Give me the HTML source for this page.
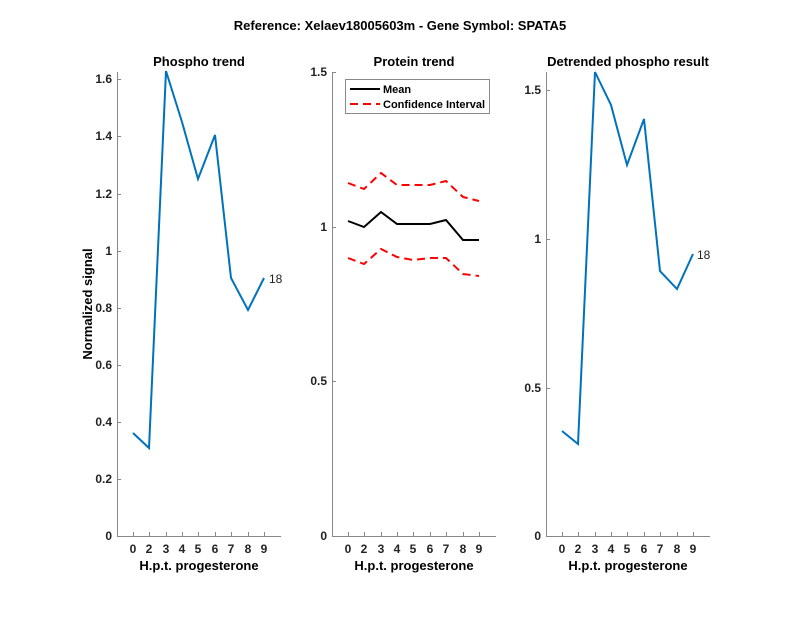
<!DOCTYPE html><html><head><style>body{margin:0;background:#fff}</style></head><body>
<svg width="800" height="618" xmlns="http://www.w3.org/2000/svg" font-family="Liberation Sans, sans-serif" font-weight="bold">
<rect width="800" height="618" fill="#fff"/>
<text x="400" y="30" text-anchor="middle" font-size="13">Reference:  Xelaev18005603m - Gene Symbol:  SPATA5</text>
<g font-size="13" text-anchor="middle">
<text x="199" y="66">Phospho trend</text>
<text x="414" y="66">Protein trend</text>
<text x="628" y="66">Detrended phospho result</text>
<text x="199" y="570">H.p.t. progesterone</text>
<text x="414" y="570">H.p.t. progesterone</text>
<text x="628" y="570">H.p.t. progesterone</text>
<text x="0" y="0" transform="translate(92,304) rotate(-90)">Normalized signal</text>
</g>
<g stroke="#888" stroke-width="1" fill="none">
<path d="M117.5,72V536.5H281"/>
<path d="M332.5,72V536.5H496"/>
<path d="M546.5,72V536.5H710"/>
</g>
<g stroke="#888" stroke-width="1" id="t">
<path d="M133.5,536v-4M149.5,536v-4M166.5,536v-4M182.5,536v-4M198.5,536v-4M215.5,536v-4M231.5,536v-4M248.5,536v-4M264.5,536v-4"/>
<path d="M117,479.5h4M117,422.5h4M117,365.5h4M117,308.5h4M117,251.5h4M117,194.5h4M117,136.5h4M117,79.5h4"/>
<path d="M348.5,536v-4M364.5,536v-4M381.5,536v-4M397.5,536v-4M413.5,536v-4M430.5,536v-4M446.5,536v-4M463.5,536v-4M479.5,536v-4"/>
<path d="M332,381.5h4M332,227.5h4M332,72.5h4"/>
<path d="M562.5,536v-4M578.5,536v-4M595.5,536v-4M611.5,536v-4M627.5,536v-4M644.5,536v-4M660.5,536v-4M677.5,536v-4M693.5,536v-4"/>
<path d="M546,388.5h4M546,239.5h4M546,90.5h4"/>
</g>
<g font-size="12" fill="#222" text-anchor="middle">
<text x="133" y="553">0</text><text x="149" y="553">2</text><text x="166" y="553">3</text><text x="182" y="553">4</text><text x="198" y="553">5</text><text x="215" y="553">6</text><text x="231" y="553">7</text><text x="248" y="553">8</text><text x="264" y="553">9</text>
<text x="348" y="553">0</text><text x="364" y="553">2</text><text x="381" y="553">3</text><text x="397" y="553">4</text><text x="413" y="553">5</text><text x="430" y="553">6</text><text x="446" y="553">7</text><text x="463" y="553">8</text><text x="479" y="553">9</text>
<text x="562" y="553">0</text><text x="578" y="553">2</text><text x="595" y="553">3</text><text x="611" y="553">4</text><text x="627" y="553">5</text><text x="644" y="553">6</text><text x="660" y="553">7</text><text x="677" y="553">8</text><text x="693" y="553">9</text>
</g>
<g font-size="12" fill="#222" text-anchor="end">
<text x="112" y="540">0</text><text x="112" y="483">0.2</text><text x="112" y="426">0.4</text><text x="112" y="369">0.6</text><text x="112" y="312">0.8</text><text x="112" y="255">1</text><text x="112" y="198">1.2</text><text x="112" y="140">1.4</text><text x="112" y="83">1.6</text>
<text x="327" y="540">0</text><text x="327" y="385">0.5</text><text x="327" y="231">1</text><text x="327" y="76">1.5</text>
<text x="541" y="540">0</text><text x="541" y="392">0.5</text><text x="541" y="243">1</text><text x="541" y="94">1.5</text>
</g>
<g fill="none" stroke="#0072BD" stroke-width="2">
<polyline points="133,433 149,448 166,71 182,122 198,179 215,135 231,278 248,310 264,278"/>
<polyline points="562,431 578,444 595,72 611,105 627,165 644,119 660,271 677,289 693,254"/>
</g>
<g font-size="12" font-weight="normal" fill="#222">
<text x="269" y="283">18</text><text x="697" y="259">18</text>
</g>
<polyline fill="none" stroke="#000" stroke-width="2" points="348,221 364,227 381,212 397,224 413,224 430,224 446,220 463,240 479,240"/>
<g fill="none" stroke="#f00" stroke-width="2" stroke-dasharray="8,5">
<polyline points="348,183 364,189 381,173 397,185 413,185 430,185 446,181 463,197 479,201"/>
<polyline points="348,258 364,264 381,249 397,257 413,260 430,258 446,258 463,274 479,276"/>
</g>
<rect x="345.5" y="79.5" width="144" height="34" fill="#fff" stroke="#888"/>
<path d="M350,89H380" stroke="#000" stroke-width="2"/>
<path d="M350,104H380" stroke="#f00" stroke-width="2" stroke-dasharray="8,5"/>
<g font-size="11"><text x="383" y="93">Mean</text><text x="383" y="108">Confidence Interval</text></g>
</svg></body></html>
